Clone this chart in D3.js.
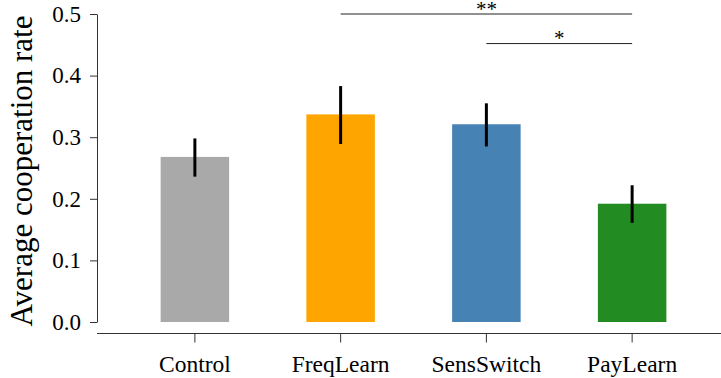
<!DOCTYPE html>
<html>
<head>
<meta charset="utf-8">
<script src="https://cdn.jsdelivr.net/npm/d3@7"></script>
<style>
  body { margin: 0; background: #fff; }
  svg { display: block; }
</style>
</head>
<body>
<svg id="chart" width="721" height="378" font-family="Liberation Serif"></svg>
<script>
// data
var groups = ['Control', 'FreqLearn', 'SensSwitch', 'PayLearn'];
var means = [0.268, 0.337, 0.321, 0.192];
var errLow = [0.236, 0.289, 0.285, 0.161];
var errHigh = [0.298, 0.383, 0.355, 0.222];
var colors = ['#a9a9a9', '#ffa500', '#4682b4', '#228b22'];
var yTicks = [0, 0.1, 0.2, 0.3, 0.4, 0.5];
// significance brackets
var sigFrom = ['FreqLearn', 'SensSwitch'];
var sigTo = ['PayLearn', 'PayLearn'];
var sigLabel = ['**', '*'];
var sigLevel = [0.5, 0.452];

var svg = d3.select('#chart');
var AXIS_X = 97;
var XAXIS_Y = 333.5;
var FONT = 'Liberation Serif';

var y = d3.scaleLinear().domain([0, 0.5]).range([322, 14]);
var x = d3.scaleBand().domain(groups).range([122, 705])
  .paddingInner(0.53).paddingOuter(0.265);

// bars
svg.append('g').selectAll('rect')
  .data(groups)
  .enter()
  .append('rect')
  .attr('x', function(d) { return x(d); })
  .attr('y', function(d, i) { return y(means[i]); })
  .attr('width', x.bandwidth())
  .attr('height', function(d, i) { return y(0) - y(means[i]); })
  .attr('fill', function(d, i) { return colors[i]; });

// error bars
svg.append('g').selectAll('line')
  .data(groups)
  .enter()
  .append('line')
  .attr('x1', function(d) { return x(d) + x.bandwidth() / 2; })
  .attr('x2', function(d) { return x(d) + x.bandwidth() / 2; })
  .attr('y1', function(d, i) { return y(errLow[i]); })
  .attr('y2', function(d, i) { return y(errHigh[i]); })
  .attr('stroke', '#000')
  .attr('stroke-width', 3);

// y axis
var yAxis = svg.append('g')
  .attr('transform', 'translate(' + AXIS_X + ',0)')
  .call(d3.axisLeft(y).tickValues(yTicks).tickFormat(d3.format('.1f'))
    .tickSize(7).tickSizeOuter(0).tickPadding(9));
yAxis.attr('font-family', FONT).attr('font-size', 23);
yAxis.selectAll('path, line').attr('stroke', '#333');
yAxis.selectAll('text').attr('fill', '#000');

// x axis
var xAxis = svg.append('g')
  .attr('transform', 'translate(0,' + XAXIS_Y + ')')
  .call(d3.axisBottom(x).tickSize(9).tickSizeOuter(0));
xAxis.attr('font-family', FONT).attr('font-size', 23.5);
xAxis.select('.domain').remove();
xAxis.append('line')
  .attr('x1', AXIS_X).attr('x2', 721)
  .attr('stroke', '#333');
xAxis.selectAll('.tick line').attr('stroke', '#333');
xAxis.selectAll('.tick text')
  .attr('y', 38)
  .attr('dy', null)
  .attr('fill', '#000');

// y label
svg.append('text')
  .attr('transform', 'translate(32,171) rotate(-90)')
  .attr('text-anchor', 'middle')
  .attr('font-family', FONT)
  .attr('font-size', 31)
  .attr('fill', '#000')
  .text('Average cooperation rate');

// significance brackets
var sig = svg.append('g');
sigLabel.forEach(function(lbl, i) {
  var x1 = x(sigFrom[i]) + x.bandwidth() / 2;
  var x2 = x(sigTo[i]) + x.bandwidth() / 2;
  var ly = y(sigLevel[i]);
  sig.append('line')
    .attr('x1', x1).attr('x2', x2)
    .attr('y1', ly).attr('y2', ly)
    .attr('stroke', '#222');
  sig.append('text')
    .attr('x', (x1 + x2) / 2)
    .attr('y', ly + 1.5)
    .attr('text-anchor', 'middle')
    .attr('font-family', FONT)
    .attr('font-size', 21)
    .attr('fill', '#000')
    .text(lbl);
});
</script>
</body>
</html>
